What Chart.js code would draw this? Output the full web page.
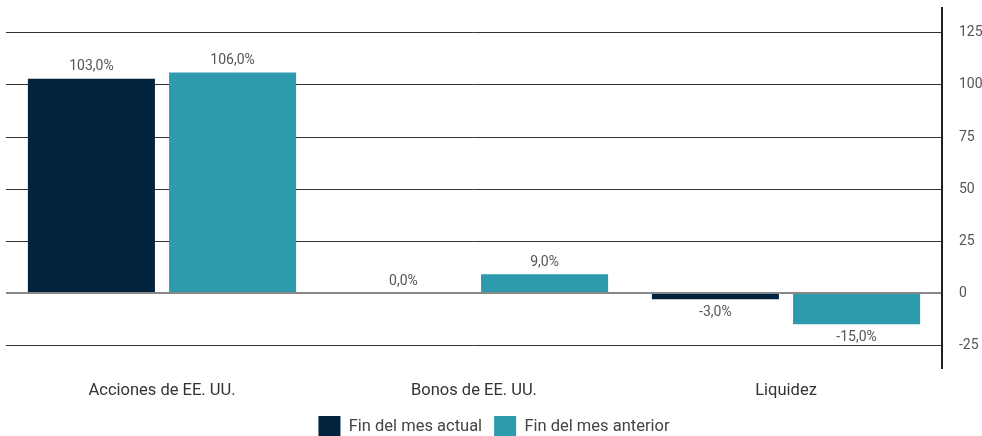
<!DOCTYPE html>
<html>
<head>
<meta charset="utf-8">
<script src="https://cdn.jsdelivr.net/npm/chart.js@4.4.1/dist/chart.umd.min.js"></script>
<style>
  body { margin: 0; background: #fff; }
  #wrap { width: 982px; height: 436px; }
</style>
</head>
<body>
<div id="wrap"><canvas id="myChart" width="982" height="436"></canvas></div>
<script>
const categories = ["Acciones de EE. UU.", "Bonos de EE. UU.", "Liquidez"];
const currentMonth = [103.0, 0.0, -3.0];
const previousMonth = [106.0, 9.0, -15.0];
const seriesNames = ["Fin del mes actual", "Fin del mes anterior"];
const colors = ["#02233d", "#2e9aae"];

const fontFamily = "Roboto, 'Noto Sans', sans-serif";

// value labels above/below each bar
const valueLabels = {
  id: "valueLabels",
  afterDatasetsDraw(chart) {
    const ctx = chart.ctx;
    ctx.save();
    ctx.font = "14px " + fontFamily;
    ctx.fillStyle = "#555";
    ctx.textAlign = "center";
    chart.data.datasets.forEach((ds, i) => {
      chart.getDatasetMeta(i).data.forEach((bar, j) => {
        const v = ds.data[j];
        const txt = v.toFixed(1).replace(".", ",") + "%";
        if (v < 0) {
          ctx.textBaseline = "top";
          ctx.fillText(txt, bar.x, bar.y + 6);
        } else {
          ctx.textBaseline = "bottom";
          ctx.fillText(txt, bar.x, bar.y - 5);
        }
      });
    });
    ctx.restore();
  }
};

const myChart = document.getElementById("myChart").getContext("2d");
const barChart = new Chart(myChart, {
  type: "bar",
  data: {
    labels: categories,
    datasets: [
      { label: seriesNames[0], data: currentMonth, backgroundColor: colors[0] },
      { label: seriesNames[1], data: previousMonth, backgroundColor: colors[1] }
    ]
  },
  options: {
    responsive: false,
    animation: false,
    layout: { padding: { left: 6, right: 0, top: 8, bottom: -12 } },
    datasets: {
      bar: { categoryPercentage: 0.905, barPercentage: 0.9 }
    },
    plugins: {
      tooltip: { enabled: false },
      legend: {
        position: "bottom",
        labels: {
          boxWidth: 22,
          boxHeight: 22,
          padding: 12,
          color: "#444",
          font: { family: fontFamily, size: 16.5 }
        }
      }
    },
    scales: {
      x: {
        grid: { display: false },
        border: { display: false },
        ticks: {
          color: "#333",
          padding: 5,
          font: { family: fontFamily, size: 16.5 }
        },
        afterFit(s) { s.height = 36; }
      },
      y: {
        position: "right",
        min: -36,
        max: 137,
        border: { display: true, color: "#222", width: 2 },
        grid: {
          drawTicks: false,
          color: ctx => ctx.tick && ctx.tick.value === 0 ? "#888" : "#333",
          lineWidth: ctx => ctx.tick && ctx.tick.value === 0 ? 2 : 1
        },
        ticks: {
          stepSize: 25,
          includeBounds: false,
          padding: 17,
          color: "#555",
          font: { family: fontFamily, size: 14 }
        },
        afterFit(s) {
          s.width = 40;
          s.paddingTop = 0;
          s.paddingBottom = 0;
        }
      }
    }
  },
  plugins: [valueLabels]
});
</script>
</body>
</html>
